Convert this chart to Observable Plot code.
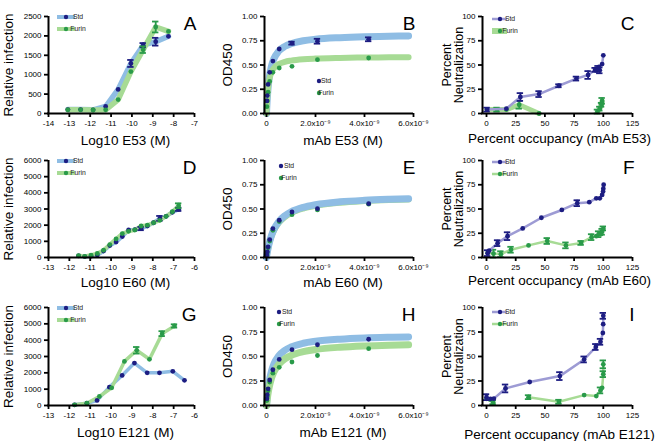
<!DOCTYPE html>
<html><head><meta charset="utf-8">
<script src="https://cdn.jsdelivr.net/npm/d3@7"></script>
<script src="https://cdn.jsdelivr.net/npm/@observablehq/plot@0.6"></script>
<style>
html,body{margin:0;padding:0;background:#fff;}
#fig{position:relative;width:661px;height:441px;overflow:hidden;font-family:"Liberation Sans",Arial,Helvetica,sans-serif;}
#fig > div{position:absolute;}
#fig svg{overflow:visible;}
</style></head><body><div id="fig"></div>
<script>
// ---------- Panel A : Log10 E53 vs relative infection ----------
const aLogX = [-13.07,-12.46,-11.86,-11.26,-10.66,-10.05,-9.46,-8.86,-8.25];
const aStd = [100,100,95,180,620,1290,1760,1850,1990];
const aStdErr = [0,0,0,0,0,90,55,100,0];
const aFurin = [95,95,90,95,360,1080,1645,2230,2115];
const aFurinErr = [0,0,0,0,0,0,85,140,0];

// ---------- Panels B, E, H : binding (OD450) ----------
const mabConc = [4.17e-9,2.08e-9,1.04e-9,0.52e-9,0.26e-9,0.13e-9,0.065e-9,0.0325e-9,0.016e-9];
const fitConc = [0,1e-11,2.5e-11,5e-11,1e-10,2e-10,3e-10,5e-10,7.5e-10,1e-9,1.5e-9,2e-9,3e-9,4e-9,5e-9,5.8e-9];
const bStd = [0.765,0.745,0.725,0.665,0.54,0.425,0.30,0.185,0.13];
const bStdErr = [0.02,0.025,0.015,0,0,0,0,0,0];
const bFurin = [0.572,0.555,0.486,0.469,0.425,0.33,0.22,0.13,0.07];
const bStdFit = [0,0.056,0.127,0.22,0.347,0.487,0.563,0.643,0.692,0.72,0.75,0.766,0.782,0.791,0.796,0.80];
const bFurinFit = [0,0.067,0.143,0.23,0.33,0.423,0.467,0.509,0.533,0.545,0.559,0.566,0.573,0.577,0.579,0.58];

const eStd = [0.555,0.503,0.469,0.384,0.298,0.185,0.11,0.058,0.024];
const eFurin = [0.55,0.49,0.442,0.37,0.28,0.17,0.10,0.05,0.03];
const eStdFit = [0,0.017,0.041,0.076,0.137,0.225,0.288,0.37,0.431,0.47,0.517,0.544,0.574,0.59,0.60,0.606];
const eFurinFit = [0,0.016,0.038,0.071,0.128,0.213,0.274,0.356,0.417,0.457,0.505,0.533,0.565,0.582,0.593,0.599];

const hStd = [0.676,0.62,0.57,0.47,0.365,0.26,0.17,0.11,0.07];
const hFurin = [0.58,0.51,0.444,0.39,0.33,0.24,0.15,0.09,0.05];
const hStdFit = [0,0.032,0.075,0.136,0.23,0.349,0.422,0.507,0.564,0.597,0.635,0.655,0.677,0.689,0.696,0.70];
const hFurinFit = [0,0.023,0.054,0.10,0.174,0.275,0.34,0.42,0.476,0.51,0.549,0.571,0.595,0.608,0.616,0.62];

// ---------- Panel C : percent occupancy (E53) ----------
const cStdOcc = [0.5,17,29,45,62,77,87,93,95.5,97,96.3,99,100];
const cStdNeut = [4,5,17,20,28.6,36,39.7,45,46,44.5,48,51,60];
const cStdErr = [2,0,4,3,1.5,2,4,2,3,3,0,0,0];
const cFurinOcc = [0.5,9,17,28,45,70,95,97,98.5,99];
const cFurinNeut = [4,4,4,9,0,null,2,5,9,13];
const cFurinErr = [0,2,0,4,0,0,2,2,2,3];

// ---------- Panel D : Log10 E60 ----------
const dLogX = [-11.56,-11.26,-10.96,-10.66,-10.36,-10.06,-9.76,-9.46,-9.16,-8.86,-8.56,-8.26,-7.96,-7.66,-7.36,-7.06,-6.76];
const dStd = [100,60,80,150,400,740,960,1300,1700,1720,1790,1950,2150,2420,2550,2800,2980];
const dStdErr = [0,0,0,0,0,0,0,0,0,0,100,0,0,150,0,0,100];
const dFurin = [120,70,150,250,450,800,1150,1480,1620,1700,1950,2000,2150,2300,2550,2830,3200];
const dFurinErr = [0,0,0,0,0,0,0,0,0,0,0,0,0,0,0,0,150];

// ---------- Panel F : percent occupancy (E60) ----------
const fStdOcc = [1,2.3,9.5,18,31,47,64.5,77.7,88,94,97,99,99.8,100,100.3];
const fStdNeut = [4.5,7,14.8,22,30,41,49,56,57,61,61,64.5,68,71,75];
const fStdErr = [3,0,3,4,0,0,0,3,0,0,0,0,0,0,0];
const fFurinOcc = [1,6,12.3,21,36,52,68,81,90,94,96,98,99,100];
const fFurinNeut = [5,4,3.4,8,12.5,17,12.5,15,21,22,24,24,26.5,30];
const fFurinErr = [0,4,3,3,0,3,3,2,3,0,3,0,3,2];

// ---------- Panel G : Log10 E121 ----------
const gStdLogX = [-11.75,-11.16,-10.67,-10.08,-9.47,-8.88,-8.27,-7.68,-7.04,-6.48];
const gStd = [40,140,310,1125,1840,2600,2000,2000,2090,1540];
const gFurinLogX = [-11.75,-11.16,-10.56,-9.97,-9.36,-8.77,-8.16,-7.55,-6.96];
const gFurin = [40,140,550,1085,2700,3380,2830,4400,4870];
const gFurinErr = [0,0,0,0,0,200,0,150,100];

// ---------- Panel I : percent occupancy (E121) ----------
const iStdOcc = [0,3.4,6.3,16.3,37,62.8,83.6,93.6,97.6,99.6,99.9,100];
const iStdNeut = [8.5,6.8,7,17.4,24,30,47,59.7,65,74,83,91.5];
const iStdErr = [3,0,0,4,0,4,3,3,3,0,0,3];
const iFurinOcc = [0,3,5.7,20,36,62,83.6,94,97.6,99,100,100];
const iFurinNeut = [6.8,6,3.4,null,8.5,3.8,10.6,9.6,15.4,18,32,42];
const iFurinErr = [0,0,2,0,2,2,0,0,3,0,3,4];

// ---------- tick labels ----------
const logTicksA = [-14,-13,-12,-11,-10,-9,-8,-7];
const logTicksDG = [-13,-12,-11,-10,-9,-8,-7,-6];
const infTicksA = [0,500,1000,1500,2000,2500];
const infTicksDG = [0,1000,2000,3000,4000,5000,6000];
const concTicks = [0,2e-9,4e-9,6e-9];
const odTicks = [0,0.25,0.5,0.75,1];
const pctTicks = [0,25,50,75,100,125];
const neutTicks = [0,25,50,75,100];

// ---------- styling ----------
const navy = "#1d1d82", blueLine = "#8fbde4", green = "#299a49", greenLine = "#a7db95", lavender = "#9d9bd4";
const FONT = "'Liberation Sans', Arial, Helvetica, sans-serif";

const rows = (xs, ys, es) => xs.map((x, i) => ({x, y: ys[i], e: es ? es[i] : 0}));

function series(data, {dot, line, lineWidth = 3, r = 2.4, curve = "linear", noLine = false}) {
  const pts = data.filter(d => d.y != null);
  const errs = pts.filter(d => d.e > 0);
  const m = [];
  if (!noLine) m.push(Plot.line(data, {x: "x", y: "y", stroke: line, strokeWidth: lineWidth, curve, strokeLinejoin: "round", strokeLinecap: "round"}));
  m.push(Plot.ruleX(errs, {x: "x", y1: d => d.y - d.e, y2: d => d.y + d.e, stroke: dot, strokeWidth: 1.8}));
  m.push(Plot.ruleY(errs, {x1: "x", x2: "x", y: d => d.y + d.e, insetLeft: -3.2, insetRight: -3.2, stroke: dot, strokeWidth: 1.8}));
  m.push(Plot.ruleY(errs, {x1: "x", x2: "x", y: d => d.y - d.e, insetLeft: -3.2, insetRight: -3.2, stroke: dot, strokeWidth: 1.8}));
  m.push(Plot.dot(pts, {x: "x", y: "y", r, fill: dot, stroke: "none"}));
  return m;
}

const concFmt = d => d === 0 ? "0" : (d * 1e9).toFixed(1) + "x10\u207B\u2079";

function panel(cfg) {
  const [mT, mR, mB, mL] = cfg.m;
  const fig = document.getElementById("fig");
  const div = document.createElement("div");
  div.style.left = cfg.left + "px"; div.style.top = cfg.top + "px";
  fig.appendChild(div);
  const svg = Plot.plot({
    width: cfg.width, height: cfg.height,
    marginTop: mT, marginRight: mR, marginBottom: mB, marginLeft: mL,
    style: {fontFamily: FONT, background: "transparent", overflow: "visible", color: "#000"},
    x: {domain: cfg.xDomain},
    y: {domain: cfg.yDomain},
    marks: [
      ...cfg.marks,
      Plot.ruleX([cfg.xDomain[0]], {y1: cfg.yDomain[0], y2: cfg.yDomain[1], stroke: "#000", strokeWidth: 2, dx: cfg.axisDx || 0}),
      Plot.ruleY([cfg.yDomain[0]], {stroke: "#000", strokeWidth: 2, insetLeft: (cfg.axisDx || 0) - 1}),
      Plot.axisX({ticks: cfg.xTicks, tickFormat: cfg.xFmt, tickSize: 4, tickPadding: 3, strokeWidth: 1.8, fontSize: 8, label: null}),
      Plot.axisY({ticks: cfg.yTicks, tickFormat: cfg.yFmt, tickSize: 4, tickPadding: 3, strokeWidth: 1.8, fontSize: 8, label: null, dx: cfg.axisDx || 0}),
      Plot.text([cfg.xTitle], {frameAnchor: "bottom", textAnchor: "middle", dy: cfg.xTitleDy, dx: cfg.xTitleDx || 0, fontSize: 13.5, lineAnchor: "middle"}),
      Plot.text([cfg.yTitle], {frameAnchor: "left", textAnchor: "middle", dx: cfg.yTitleDx, rotate: -90, fontSize: cfg.yTitleSize || 13.5, lineAnchor: "middle", lineHeight: 0.95}),
      Plot.text([cfg.letter], {frameAnchor: "top-right", textAnchor: "end", lineAnchor: "middle", dx: 2, dy: 7, fontSize: 19})
    ]
  });
  div.appendChild(svg);
  // legend
  const s = d3.select(svg);
  const lg = cfg.legend;
  lg.rows.forEach(row => {
    const g = s.append("g");
    if (row.line) g.append("line").attr("x1", lg.x1).attr("x2", lg.x2).attr("y1", row.y).attr("y2", row.y)
      .attr("stroke", row.line).attr("stroke-width", row.lineW || 3);
    g.append("circle").attr("cx", lg.dotX).attr("cy", row.y).attr("r", 2.2).attr("fill", row.dot);
    g.append("text").attr("x", lg.textX).attr("y", row.y).attr("dy", "0.35em")
      .attr("font-size", 6.8).attr("font-family", FONT).attr("fill", "#222").text(row.label);
  });
}

const col = [{left: 0, width: 220, mL: 48, mR: 26}, {left: 220, width: 220, mL: 46, mR: 27}, {left: 440, width: 221, mL: 46, mR: 29}];
const row = [{top: 0, mT: 16, mB: 34}, {top: 147, mT: 13, mB: 37}, {top: 294, mT: 13, mB: 36}];
const base = (c, r) => ({left: col[c].left, top: row[r].top, width: col[c].width, height: 147,
  m: [row[r].mT, col[c].mR, row[r].mB, col[c].mL]});

const str = d => String(d);
const legend1 = mT => ({x1: 57, x2: 75, dotX: 66, textX: 78, rows: [
  {y: mT + 1, label: "Std", line: blueLine, lineW: 4, dot: navy},
  {y: mT + 13, label: "Furin", line: greenLine, lineW: 4, dot: green}]});
const legend3 = (mT, furinW) => ({x1: 52, x2: 67, dotX: 60, textX: 70, rows: [
  {y: mT + 3, label: "Std", line: lavender, lineW: 2.5, dot: navy},
  {y: mT + 15, label: "Furin", line: greenLine, lineW: furinW, dot: green}]});

// Panel A
panel({...base(0, 0), xDomain: [-14, -7], yDomain: [0, 2500], xTicks: logTicksA, yTicks: infTicksA, xFmt: str, yFmt: str,
  xTitle: "Log10 E53 (M)", xTitleDy: 27, xTitleDx: 4, yTitle: "Relative infection", yTitleDx: -40, letter: "A",
  marks: [
    Plot.line(rows(aLogX, aStd), {x: "x", y: "y", stroke: blueLine, strokeWidth: 5.5, strokeLinejoin: "round"}),
    Plot.line(rows(aLogX, aFurin), {x: "x", y: "y", stroke: greenLine, strokeWidth: 5.5, strokeLinejoin: "round"}),
    ...series(rows(aLogX, aStd, aStdErr), {dot: navy, noLine: true}),
    ...series(rows(aLogX, aFurin, aFurinErr), {dot: green, noLine: true})
  ], legend: legend1(16)});

// Panel B
panel({...base(1, 0), xDomain: [0, 6e-9], yDomain: [0, 1], xTicks: concTicks, yTicks: odTicks, xFmt: concFmt, yFmt: d3.format(".2f"),
  xTitle: "mAb E53 (M)", xTitleDy: 27, xTitleDx: 3, yTitle: "OD450", yTitleDx: -39, letter: "B", axisDx: -2,
  marks: [
    Plot.line(rows(fitConc, bStdFit), {x: "x", y: "y", stroke: blueLine, strokeWidth: 7, curve: "monotone-x"}),
    Plot.line(rows(fitConc, bFurinFit), {x: "x", y: "y", stroke: greenLine, strokeWidth: 6, curve: "monotone-x"}),
    ...series(rows(mabConc, bFurin), {dot: green, noLine: true}),
    ...series(rows(mabConc, bStd, bStdErr), {dot: navy, noLine: true})
  ], legend: {dotX: 99, textX: 106, rows: [{y: 81, label: "Std", dot: navy}, {y: 93, label: "Furin", dot: green}]}});

// Panel C
panel({...base(2, 0), xDomain: [0, 125], yDomain: [0, 100], xTicks: pctTicks, yTicks: neutTicks, xFmt: str, yFmt: str,
  xTitle: "Percent occupancy (mAb E53)", xTitleDy: 25, yTitle: "Percent\nNeutralization", yTitleSize: 12.5, yTitleDx: -33, letter: "C", axisDx: -4,
  marks: [
    ...series(rows(cFurinOcc, cFurinNeut, cFurinErr), {dot: green, line: greenLine, lineWidth: 5}),
    ...series(rows(cStdOcc, cStdNeut, cStdErr), {dot: navy, line: lavender, lineWidth: 2.5})
  ], legend: legend3(16, 6)});

// Panel D
panel({...base(0, 1), xDomain: [-13, -6], yDomain: [0, 6000], xTicks: logTicksDG, yTicks: infTicksDG, xFmt: str, yFmt: str,
  xTitle: "Log10 E60 (M)", xTitleDy: 25, xTitleDx: 4, yTitle: "Relative infection", yTitleDx: -40, letter: "D",
  marks: [
    Plot.line(rows(dLogX, dStd), {x: "x", y: "y", stroke: blueLine, strokeWidth: 4, strokeLinejoin: "round"}),
    Plot.line(rows(dLogX, dFurin), {x: "x", y: "y", stroke: greenLine, strokeWidth: 4, strokeLinejoin: "round"}),
    ...series(rows(dLogX, dStd, dStdErr), {dot: navy, noLine: true}),
    ...series(rows(dLogX, dFurin, dFurinErr), {dot: green, noLine: true})
  ], legend: legend1(13)});

// Panel E
panel({...base(1, 1), xDomain: [0, 6e-9], yDomain: [0, 1], xTicks: concTicks, yTicks: odTicks, xFmt: concFmt, yFmt: d3.format(".2f"),
  xTitle: "mAb E60 (M)", xTitleDy: 25, xTitleDx: 3, yTitle: "OD450", yTitleDx: -39, letter: "E", axisDx: -2,
  marks: [
    Plot.line(rows(fitConc, eFurinFit), {x: "x", y: "y", stroke: greenLine, strokeWidth: 6, curve: "monotone-x"}),
    Plot.line(rows(fitConc, eStdFit), {x: "x", y: "y", stroke: blueLine, strokeWidth: 7, curve: "monotone-x"}),
    ...series(rows(mabConc, eFurin), {dot: green, noLine: true}),
    ...series(rows(mabConc, eStd), {dot: navy, noLine: true})
  ], legend: {dotX: 61, textX: 69, rows: [{y: 19, label: "Std", dot: navy}, {y: 31, label: "Furin", dot: green}]}});

// Panel F
panel({...base(2, 1), xDomain: [0, 125], yDomain: [0, 100], xTicks: pctTicks, yTicks: neutTicks, xFmt: str, yFmt: str,
  xTitle: "Percent occupancy (mAb E60)", xTitleDy: 23, yTitle: "Percent\nNeutralization", yTitleSize: 12.5, yTitleDx: -33, letter: "F", axisDx: -4,
  marks: [
    ...series(rows(fFurinOcc, fFurinNeut, fFurinErr), {dot: green, line: greenLine, lineWidth: 2.5}),
    ...series(rows(fStdOcc, fStdNeut, fStdErr), {dot: navy, line: lavender, lineWidth: 2.5})
  ], legend: legend3(12, 2.5)});

// Panel G
panel({...base(0, 2), xDomain: [-13, -6], yDomain: [0, 6000], xTicks: logTicksDG, yTicks: infTicksDG, xFmt: str, yFmt: str,
  xTitle: "Log10 E121 (M)", xTitleDy: 27, xTitleDx: 4, yTitle: "Relative infection", yTitleDx: -40, letter: "G",
  marks: [
    Plot.line(rows(gStdLogX, gStd), {x: "x", y: "y", stroke: blueLine, strokeWidth: 3.5, strokeLinejoin: "round"}),
    Plot.line(rows(gFurinLogX, gFurin), {x: "x", y: "y", stroke: greenLine, strokeWidth: 3.5, strokeLinejoin: "round"}),
    ...series(rows(gStdLogX, gStd), {dot: navy, noLine: true}),
    ...series(rows(gFurinLogX, gFurin, gFurinErr), {dot: green, noLine: true})
  ], legend: legend1(13)});

// Panel H
panel({...base(1, 2), xDomain: [0, 6e-9], yDomain: [0, 1], xTicks: concTicks, yTicks: odTicks, xFmt: concFmt, yFmt: d3.format(".2f"),
  xTitle: "mAb E121 (M)", xTitleDy: 27, xTitleDx: 3, yTitle: "OD450", yTitleDx: -39, letter: "H", axisDx: -2,
  marks: [
    Plot.line(rows(fitConc, hStdFit), {x: "x", y: "y", stroke: blueLine, strokeWidth: 7, curve: "monotone-x"}),
    Plot.line(rows(fitConc, hFurinFit), {x: "x", y: "y", stroke: greenLine, strokeWidth: 7, curve: "monotone-x"}),
    ...series(rows(mabConc, hFurin), {dot: green, noLine: true}),
    ...series(rows(mabConc, hStd), {dot: navy, noLine: true})
  ], legend: {dotX: 59, textX: 67, rows: [{y: 18, label: "Std", dot: navy}, {y: 30, label: "Furin", dot: green}]}});

// Panel I
panel({...base(2, 2), xDomain: [0, 125], yDomain: [0, 100], xTicks: pctTicks, yTicks: neutTicks, xFmt: str, yFmt: str,
  xTitle: "Percent occupancy (mAb E121)", xTitleDy: 29, yTitle: "Percent\nNeutralization", yTitleSize: 12.5, yTitleDx: -33, letter: "I", axisDx: -4,
  marks: [
    ...series(rows(iFurinOcc, iFurinNeut, iFurinErr), {dot: green, line: greenLine, lineWidth: 2.5}),
    ...series(rows(iStdOcc, iStdNeut, iStdErr), {dot: navy, line: lavender, lineWidth: 2.5})
  ], legend: legend3(15, 2.5)});
</script>
</body></html>
